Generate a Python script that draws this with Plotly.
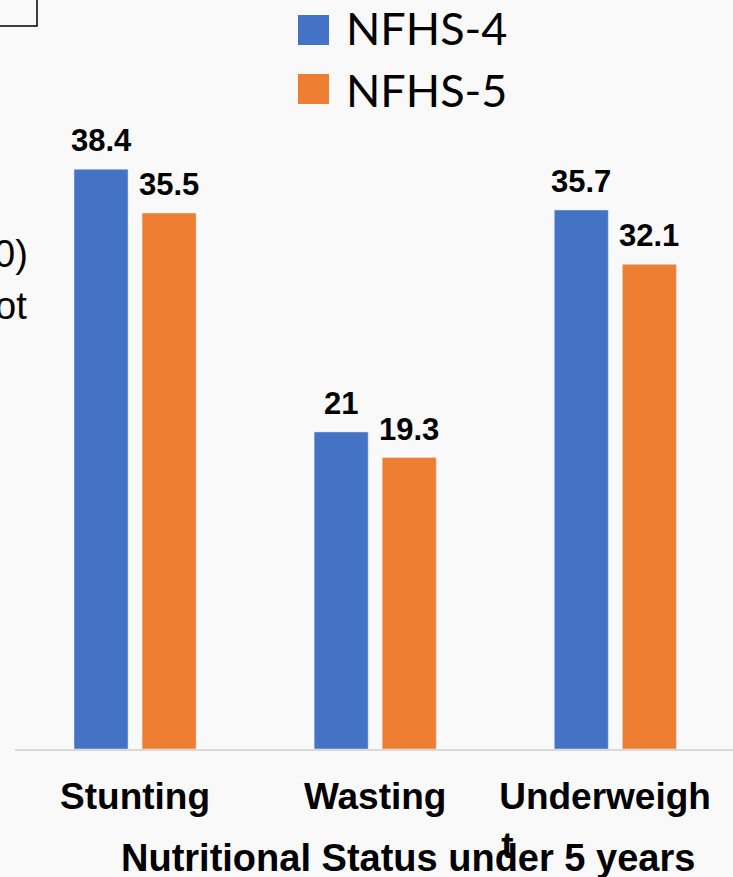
import plotly.graph_objects as go

# second line of the last label sits at the left, as in the source slide
categories = ["Stunting", "Wasting", "Underweigh" + "\u00a0" * 2 + "<br>t" + "\u00a0" * 21]
series_names = ["NFHS-4", "NFHS-5"]
nfhs4 = [38.4, 21, 35.7]
nfhs5 = [35.5, 19.3, 32.1]
colors = ["#4472C4", "#ED7D31"]

W, H = 733, 877
L, R, T, B = 15, 0, 120, 128


def px_x(px):
    return (px - L) / (W - L - R)


def px_y(py):
    return (H - B - py) / (H - T - B)


fig = go.Figure()
for i, (name, vals, col) in enumerate(zip(series_names, [nfhs4, nfhs5], colors)):
    fig.add_trace(go.Bar(x=categories, y=vals, name=name, marker_color=col,
                         showlegend=False))
    # value labels sit a bit higher above the bars than plotly's "outside" text
    for cat, v in zip(categories, vals):
        fig.add_annotation(x=cat, y=v, text=f"<b>{v}</b>", showarrow=False,
                           xshift=(-34 if i == 0 else 34), yshift=9, yanchor="bottom",
                           font=dict(family="Arial", size=31, color="black"))

# legend drawn by hand so the swatches can be large
for i, (name, col) in enumerate(zip(series_names, colors)):
    top = 15 + i * 59
    fig.add_shape(type="rect", xref="paper", yref="paper",
                  x0=px_x(298), x1=px_x(329), y0=px_y(top), y1=px_y(top + 30),
                  fillcolor=col, line_width=0)
    fig.add_annotation(text=name, xref="paper", yref="paper",
                       x=px_x(344), y=px_y(top + 13 + i * 3), xanchor="left", yanchor="middle",
                       showarrow=False, font=dict(family="Lato", size=45, color="black"))

# pieces of the slide behind the chart
fig.add_shape(type="rect", xref="paper", yref="paper",
              x0=px_x(-20), x1=px_x(37), y0=px_y(26), y1=px_y(-20),
              line=dict(color="black", width=1.5), fillcolor="rgba(0,0,0,0)")
fig.add_annotation(text="0)", xref="paper", yref="paper", x=px_x(30), y=px_y(254),
                   xanchor="right", yanchor="middle", showarrow=False,
                   font=dict(family="Arial", size=38, color="black"))
fig.add_annotation(text="ot", xref="paper", yref="paper", x=px_x(29), y=px_y(306),
                   xanchor="right", yanchor="middle", showarrow=False,
                   font=dict(family="Arial", size=38, color="black"))

fig.add_annotation(text="<b>Nutritional Status under 5 years</b>", xref="paper", yref="paper",
                   x=px_x(408), y=px_y(858), xanchor="center", yanchor="middle",
                   showarrow=False, font=dict(family="Arial", size=38, color="black"))

fig.update_layout(
    width=W, height=H,
    margin=dict(l=L, r=R, t=T, b=B),
    paper_bgcolor="#f9f9f9", plot_bgcolor="rgba(0,0,0,0)",
    barmode="group", bargap=0.433, bargroupgap=0.206,
    showlegend=False,
    xaxis=dict(range=[-0.5, 2.49], showline=True, linecolor="#d9d9d9", linewidth=2,
               ticks="", showgrid=False, fixedrange=True, ticklabelstandoff=14,
               tickfont=dict(family="Arial", size=37, color="black", weight="bold")),
    yaxis=dict(range=[0, 41.66], visible=False, showgrid=False),
)

# drop the page's default body margin so the figure sits at the window corner
fig.write_html("out.html", config={"displayModeBar": False},
               post_script="document.body.style.margin='0';")
